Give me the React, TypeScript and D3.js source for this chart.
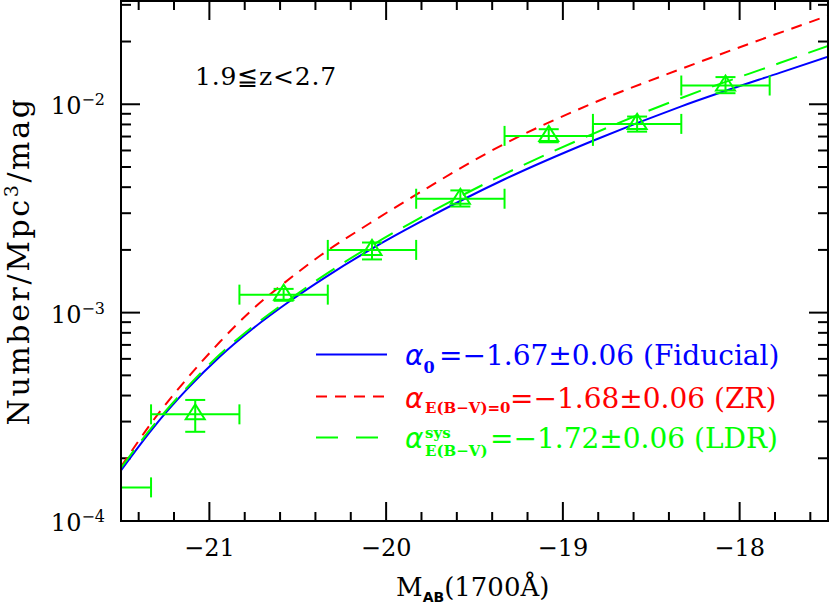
import React from "react";
import * as d3 from "d3";

// ---- data ----
const binCenters = [-21.58, -21.08, -20.58, -20.08, -19.58, -19.08, -18.58, -18.08];
const binHalfWidth = [0.25, 0.25, 0.25, 0.25, 0.25, 0.25, 0.25, 0.25];
const phiObs = [1.45e-4, 3.25e-4, 1.22e-3, 2.0e-3, 3.52e-3, 7.05e-3, 8.05e-3, 1.23e-2];
const phiLow = [1.3e-4, 2.68e-4, 1.14e-3, 1.8e-3, 3.23e-3, 6.57e-3, 7.39e-3, 1.13e-2];
const phiHigh = [1.6e-4, 3.81e-4, 1.3e-3, 2.17e-3, 3.86e-3, 7.59e-3, 8.73e-3, 1.35e-2];

const fidM = [-21.5, -21.32, -21.13, -20.94, -20.75, -20.54, -20.34, -20.07, -19.81, -19.33, -18.83, -18.33, -17.77, -17.5];
const fidPhi = [1.75e-4, 2.786e-4, 4.256e-4, 6.152e-4, 8.433e-4, 1.143e-3, 1.486e-3, 2.051e-3, 2.716e-3, 4.365e-3, 6.683e-3, 9.772e-3, 1.419e-2, 1.69e-2];

const ldrM = [-21.5, -21.32, -21.13, -20.94, -20.75, -20.54, -20.34, -20.07, -19.81, -19.33, -18.83, -18.33, -17.77, -17.5];
const ldrPhi = [1.799e-4, 2.851e-4, 4.345e-4, 6.31e-4, 8.63e-4, 1.169e-3, 1.531e-3, 2.128e-3, 2.844e-3, 4.624e-3, 7.211e-3, 1.072e-2, 1.581e-2, 1.905e-2];

const zrM = [-21.5, -21.32, -21.13, -20.94, -20.75, -20.58, -20.37, -20.09, -19.9, -19.33, -18.83, -18.33, -17.5];
const zrPhi = [1.82e-4, 3.02e-4, 4.786e-4, 7.244e-4, 1.047e-3, 1.38e-3, 1.884e-3, 2.692e-3, 3.388e-3, 6.457e-3, 1.012e-2, 1.479e-2, 2.661e-2];

const xMajorTicks = [-21, -20, -19, -18];
const xTickLabels = ["−21", "−20", "−19", "−18"];
const yMajorTicks = [1e-4, 1e-3, 1e-2];
const yTickExps = ["−4", "−3", "−2"];
const redshiftLabel = "1.9≦z<2.7";

const BLUE = "#0000ff";
const RED = "#ff0000";
const GREEN = "#00ff00";

export default function App() {
  const W = 830, H = 606;
  const left = 121, right = 828, top = 1, bottom = 521;
  const x = d3.scaleLinear().domain([-21.5, -17.5]).range([left, right]);
  const y = d3.scaleLog().domain([1e-4, 3.13e-2]).range([bottom, top]);

  const line = d3
    .line<[number, number]>()
    .x((d) => x(d[0]))
    .y((d) => y(d[1]))
    .curve(d3.curveMonotoneX);

  const fidPath = line(fidM.map((m, i) => [m, fidPhi[i]]));
  const zrPath = line(zrM.map((m, i) => [m, zrPhi[i]]));
  const ldrPath = line(ldrM.map((m, i) => [m, ldrPhi[i]]));

  const xMinor = d3.range(-21.4, -17.5, 0.2).map((v) => +v.toFixed(2));
  const yMinor: number[] = [];
  [1e-4, 1e-3, 1e-2].forEach((dec) => {
    for (let k = 2; k <= 9; k++) {
      const v = dec * k;
      if (v <= 3.13e-2) yMinor.push(v);
    }
  });

  const serif = "DejaVu Serif";
  const capW = 10;

  return (
    <svg
      width={W}
      height={H}
      viewBox={`0 0 ${W} ${H}`}
      style={{ position: "absolute", left: 0, top: 0, background: "#fff" }}
    >
      <defs>
        <clipPath id="plotClip">
          <rect x={left} y={top} width={right - left} height={bottom - top} />
        </clipPath>
      </defs>

      {/* ticks */}
      <g stroke="#000" strokeWidth={2}>
        {xMajorTicks.map((t) => (
          <g key={"xM" + t}>
            <line x1={x(t)} x2={x(t)} y1={bottom} y2={bottom - 19} />
            <line x1={x(t)} x2={x(t)} y1={top} y2={top + 19} />
          </g>
        ))}
        {xMinor
          .filter((t) => !xMajorTicks.some((m) => Math.abs(m - t) < 1e-6))
          .map((t) => (
            <g key={"xm" + t}>
              <line x1={x(t)} x2={x(t)} y1={bottom} y2={bottom - 9} />
              <line x1={x(t)} x2={x(t)} y1={top} y2={top + 9} />
            </g>
          ))}
        {yMajorTicks.map((t) => (
          <g key={"yM" + t}>
            <line x1={left} x2={left + 19} y1={y(t)} y2={y(t)} />
            <line x1={right} x2={right - 19} y1={y(t)} y2={y(t)} />
          </g>
        ))}
        {yMinor.map((t) => (
          <g key={"ym" + t}>
            <line x1={left} x2={left + 10} y1={y(t)} y2={y(t)} />
            <line x1={right} x2={right - 10} y1={y(t)} y2={y(t)} />
          </g>
        ))}
      </g>

      {/* curves */}
      <g clipPath="url(#plotClip)" fill="none" strokeWidth={2}>
        <path d={fidPath || ""} stroke={BLUE} />
        <path d={zrPath || ""} stroke={RED} strokeDasharray="11,8" />
        <path d={ldrPath || ""} stroke={GREEN} strokeDasharray="22,12" />
      </g>

      {/* data points */}
      <g clipPath="url(#plotClip)" fill="none" stroke={GREEN} strokeWidth={2}>
        {binCenters.map((m, i) => {
          const cx = x(m);
          const cy = y(phiObs[i]);
          const xl = x(m - binHalfWidth[i]);
          const xr = x(m + binHalfWidth[i]);
          const yl = y(phiLow[i]);
          const yh = y(phiHigh[i]);
          return (
            <g key={"pt" + i}>
              <line x1={xl} x2={xr} y1={cy} y2={cy} />
              <line x1={xl} x2={xl} y1={cy - capW} y2={cy + capW} />
              <line x1={xr} x2={xr} y1={cy - capW} y2={cy + capW} />
              <line x1={cx} x2={cx} y1={yl} y2={yh} />
              <line x1={cx - capW} x2={cx + capW} y1={yl} y2={yl} />
              <line x1={cx - capW} x2={cx + capW} y1={yh} y2={yh} />
              <path d={`M${cx},${cy - 10}L${cx + 9.5},${cy + 5}L${cx - 9.5},${cy + 5}Z`} />
            </g>
          );
        })}
      </g>

      {/* frame */}
      <rect
        x={left}
        y={top}
        width={right - left}
        height={bottom - top}
        fill="none"
        stroke="#000"
        strokeWidth={2}
      />

      {/* x tick labels */}
      <g fontFamily={serif} fontSize={24} fill="#000" textAnchor="middle">
        {xMajorTicks.map((t, i) => (
          <text key={"xl" + t} x={x(t)} y={556}>
            {xTickLabels[i]}
          </text>
        ))}
      </g>

      {/* y tick labels */}
      <g fontFamily={serif} fill="#000">
        {yMajorTicks.map((t, i) => (
          <text key={"yl" + t} x={105} y={y(t) + 10} textAnchor="end" fontSize={24}>
            10
            <tspan fontSize={16} dy={-9}>
              {yTickExps[i]}
            </tspan>
          </text>
        ))}
      </g>

      {/* axis titles */}
      <text x={396} y={596} fontFamily={serif} fontSize={26} fill="#000">
        M
        <tspan fontFamily="DejaVu Sans" fontWeight="bold" fontSize={14} dy={6}>
          AB
        </tspan>
        <tspan dy={-6}>(1700Å)</tspan>
      </text>
      <text
        transform="translate(29,261) rotate(-90)"
        textAnchor="middle"
        fontFamily={serif}
        fontSize={30}
        letterSpacing={2.6}
        fill="#000"
      >
        Number/Mpc
        <tspan fontSize={19} dy={-11}>
          3
        </tspan>
        <tspan dy={11}>/mag</tspan>
      </text>

      {/* redshift label */}
      <text x={195} y={85} fontFamily={serif} fontSize={25} letterSpacing={0.8} fill="#000">
        {redshiftLabel}
      </text>

      {/* legend */}
      <g strokeWidth={2} fill="none">
        <line x1={316} x2={387} y1={354.5} y2={354.5} stroke={BLUE} />
        <line x1={316} x2={387} y1={396.5} y2={396.5} stroke={RED} strokeDasharray="11,8" />
        <line x1={316} x2={387} y1={437.5} y2={437.5} stroke={GREEN} strokeDasharray="22,18" />
      </g>
      <g fontFamily={serif} fontSize={28}>
        <text x={405} y={365} fill={BLUE}>
          <tspan fontFamily="DejaVu Sans" fontStyle="italic">α</tspan>
          <tspan fontSize={16} fontWeight="bold" dy={8}>
            0
          </tspan>
          <tspan x={439} dy={-8}>=−1.67±0.06 (Fiducial)</tspan>
        </text>
        <text x={405} y={408} fill={RED}>
          <tspan fontFamily="DejaVu Sans" fontStyle="italic">α</tspan>
          <tspan fontSize={15} fontWeight="bold" x={425} dy={5}>
            E(B−V)=0
          </tspan>
          <tspan x={510} dy={-5}>=−1.68±0.06 (ZR)</tspan>
        </text>
        <text x={405} y={448} fill={GREEN}>
          <tspan fontFamily="DejaVu Sans" fontStyle="italic">α</tspan>
          <tspan fontSize={15} fontWeight="bold" x={425} dy={-10}>
            sys
          </tspan>
          <tspan fontSize={15} fontWeight="bold" x={425} dy={18}>
            E(B−V)
          </tspan>
          <tspan x={490} dy={-8}>=−1.72±0.06 (LDR)</tspan>
        </text>
      </g>
    </svg>
  );
}
